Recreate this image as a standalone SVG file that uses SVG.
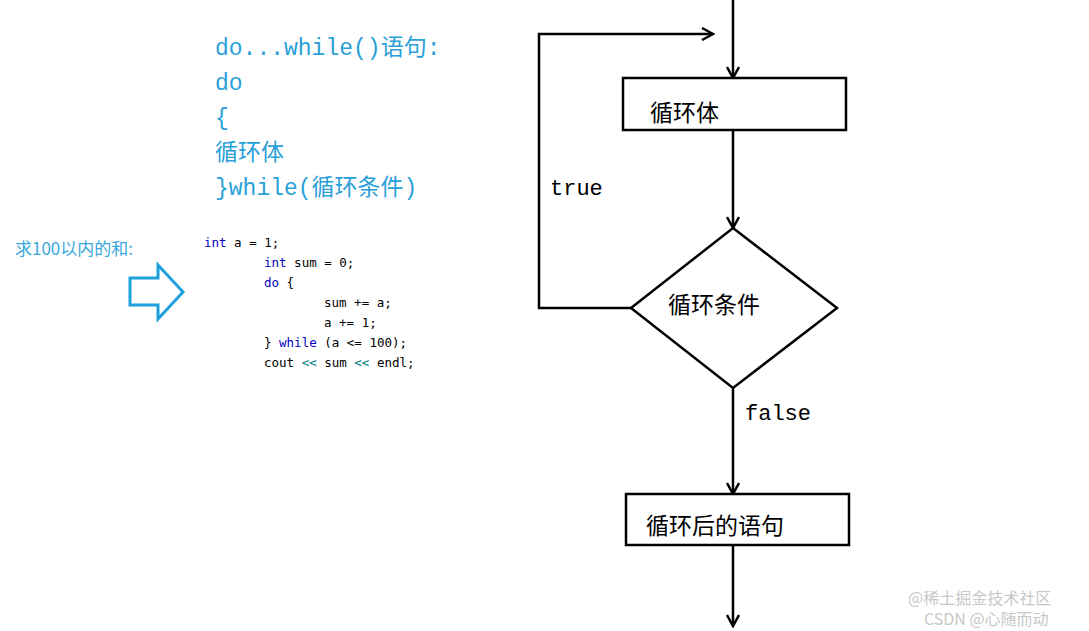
<svg xmlns="http://www.w3.org/2000/svg" width="1089" height="631" viewBox="0 0 1089 631">
<style>
.b{fill:#2aa0d8;font-family:"Liberation Mono","Noto Sans CJK SC",monospace;font-size:23px}
.c{font-family:"DejaVu Sans Mono",monospace;font-size:12.5px;fill:#000}
.k{fill:#0000c0}
.o{fill:#008080}
.ln{stroke:#000;stroke-width:2.5;fill:none}
.bx{stroke:#000;stroke-width:2.5;fill:#fff}
.t{font-family:"Noto Sans CJK SC",sans-serif;font-size:23px;fill:#000}
.m{font-family:"Liberation Mono",monospace;font-size:22px;fill:#000}
</style>
<defs><marker id="a" markerWidth="14" markerHeight="14" refX="12" refY="7" orient="auto" markerUnits="userSpaceOnUse"><path d="M1,1 L12,7 L1,13" fill="none" stroke="#000" stroke-width="2.5"/></marker></defs>
<rect width="1089" height="631" fill="#fff"/>
<g id="desc">
<text class="b" x="215" y="55">do...while()语句:</text>
<text class="b" x="215" y="90">do</text>
<text class="b" x="215" y="125">{</text>
<text class="b" x="215" y="160">循环体</text>
<text class="b" x="215" y="195">}while(循环条件)</text>
</g>
<g id="label"><text x="15" y="255" style="font-family:'Noto Sans CJK SC',sans-serif;font-size:17px;fill:#3aa8dc">求100以内的和:</text>
<polygon points="130,278 158,278 158,265 183,292 158,319 158,305 130,305" fill="none" stroke="#1ea0dc" stroke-width="3"/></g>
<g id="code" class="c">
<text x="204" y="247"><tspan class="k">int</tspan> a = 1;</text>
<text x="264" y="267"><tspan class="k">int</tspan> sum = 0;</text>
<text x="264" y="287"><tspan class="k">do</tspan> {</text>
<text x="324" y="307">sum += a;</text>
<text x="324" y="327">a += 1;</text>
<text x="264" y="347">} <tspan class="k">while</tspan> (a &lt;= 100);</text>
<text x="264" y="367">cout <tspan class="o">&lt;&lt;</tspan> sum <tspan class="o">&lt;&lt;</tspan> endl;</text>
</g>
<g id="connectors">
<line class="ln" x1="733" y1="0" x2="733" y2="78" marker-end="url(#a)"/>
<line class="ln" x1="733" y1="130" x2="733" y2="228" marker-end="url(#a)"/>
<polyline class="ln" points="631,308 539,308 539,34 713,34" marker-end="url(#a)"/>
<line class="ln" x1="733" y1="388" x2="733" y2="494" marker-end="url(#a)"/>
<line class="ln" x1="733" y1="545" x2="733" y2="626" marker-end="url(#a)"/>
<text class="m" x="550" y="195">true</text>
<text class="m" x="745" y="420">false</text>
</g>
<g id="body"><rect class="bx" x="623" y="78" width="223" height="52"/><text class="t" x="650" y="121">循环体</text></g>
<g id="cond"><polygon class="bx" points="733,228 837,308 733,388 631,308"/><text class="t" x="668" y="313">循环条件</text></g>
<g id="after"><rect class="bx" x="626" y="494" width="223" height="51"/><text class="t" x="646" y="534">循环后的语句</text></g>
<g id="wm" style="font-family:'Noto Sans CJK SC',sans-serif;fill:#bbb;opacity:0.8">
<text x="908" y="604" font-size="16">@稀土掘金技术社区</text>
<text x="924" y="625" font-size="16">CSDN @心随而动</text>
</g>
</svg>
